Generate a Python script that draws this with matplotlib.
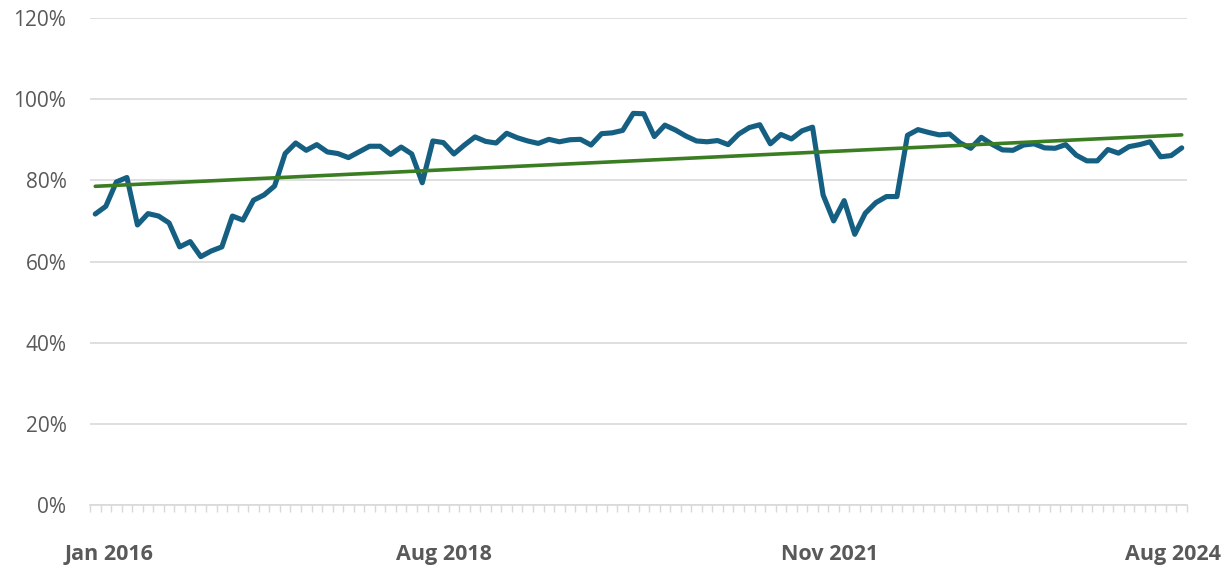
import numpy as np
import matplotlib
matplotlib.use("Agg")
from matplotlib import pyplot as plt

# Monthly values, Jan 2016 .. Aug 2024 (percent)
months = np.arange(104)
values = [
    71.7, 73.6, 79.6, 80.7, 69.0, 71.8, 71.2, 69.5, 63.6, 64.9,
    61.2, 62.6, 63.6, 71.2, 70.2, 75.1, 76.4, 78.6, 86.6, 89.2,
    87.4, 88.8, 87.0, 86.6, 85.6, 87.0, 88.4, 88.4, 86.4, 88.2,
    86.5, 79.4, 89.7, 89.3, 86.5, 88.7, 90.7, 89.6, 89.2, 91.6,
    90.5, 89.7, 89.1, 90.1, 89.5, 90.0, 90.1, 88.7, 91.5, 91.7,
    92.3, 96.5, 96.4, 90.8, 93.6, 92.4, 90.9, 89.7, 89.5, 89.8,
    88.8, 91.4, 93.0, 93.7, 89.0, 91.3, 90.2, 92.2, 93.1, 76.4,
    70.0, 75.0, 66.7, 71.9, 74.5, 76.0, 76.0, 91.1, 92.5, 91.8,
    91.2, 91.4, 89.2, 87.9, 90.6, 88.9, 87.5, 87.4, 88.7, 89.0,
    88.0, 87.9, 88.8, 86.2, 84.8, 84.8, 87.6, 86.7, 88.3, 88.8,
    89.5, 85.8, 86.1, 88.0,
]
tick_labels = ["Jan 2016", "Aug 2018", "Nov 2021", "Aug 2024"]
tick_pos = [1.3, 33.05, 69.6, 102.2]

blue = "#156082"
green = "#3B7D23"
grey_text = "#595959"
grid_col = "#D9D9D9"

plt.rcParams["font.family"] = ["Open Sans", "DejaVu Sans"]

fig = plt.figure(figsize=(12.24, 5.71), dpi=100)
ax = fig.add_axes([90 / 1224, 1 - 505 / 571, 1097 / 1224, 487 / 571])

# linear trendline (least squares, like Excel)
slope, intercept = np.polyfit(months, values, 1)
trend = slope * months + intercept

ax.plot(months, values, color=blue, linewidth=3.7, solid_joinstyle="round",
        solid_capstyle="round", zorder=3)
ax.plot(months, trend, color=green, linewidth=2.6, solid_capstyle="round", zorder=4)

ax.set_xlim(-0.5, 103.5)
ax.set_ylim(0, 120)
ax.set_yticks(np.arange(0, 121, 20))
ax.set_yticklabels([f"{v}%" for v in range(0, 121, 20)])
ax.yaxis.grid(True, color=grid_col, linewidth=1.2)
ax.set_axisbelow(True)

for s in ["top", "right", "left"]:
    ax.spines[s].set_visible(False)
ax.spines["bottom"].set_color(grid_col)
ax.spines["bottom"].set_linewidth(1.2)

ax.tick_params(axis="y", length=0, pad=17, labelsize=15, labelcolor=grey_text)

# monthly tick marks between categories
ax.set_xticks(np.arange(-0.5, 104, 1), minor=True)
ax.tick_params(axis="x", which="minor", length=5, width=1.0, color=grid_col, direction="out")
ax.set_xticks(tick_pos)
ax.set_xticklabels(tick_labels, fontweight="bold")
ax.tick_params(axis="x", which="major", length=0, pad=28, labelsize=15.5, labelcolor=grey_text)

fig.savefig("out.png", dpi=100)
